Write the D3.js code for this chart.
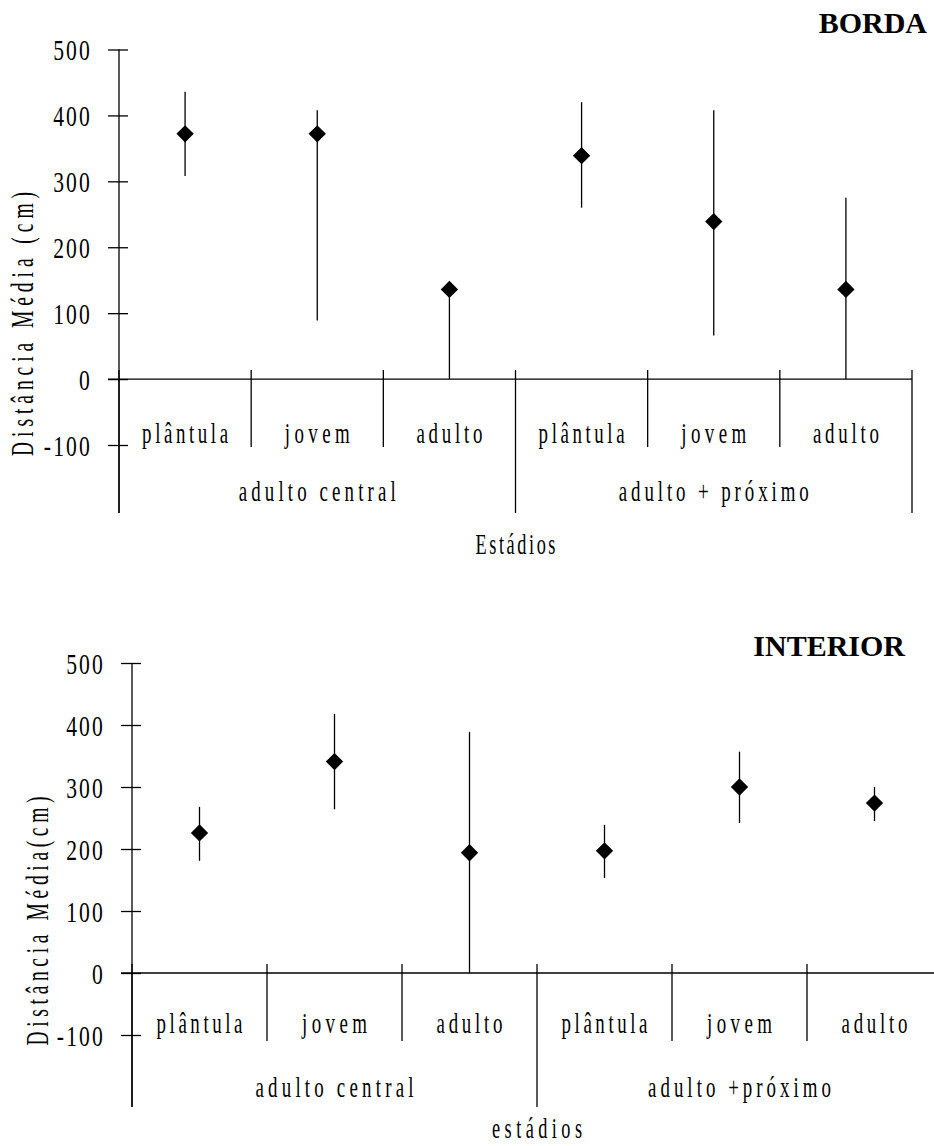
<!DOCTYPE html>
<html>
<head>
<meta charset="utf-8">
<script src="https://cdn.jsdelivr.net/npm/d3@7"></script>
<style>
  html, body { margin: 0; padding: 0; background: #fff; }
  svg { display: block; }
  text { font-family: "Liberation Serif", "Times New Roman", serif; fill: #000; }
</style>
</head>
<body>
<svg id="chart" width="934" height="1146"></svg>
<script>
// ---- data ----
const stages = ["plântula", "jovem", "adulto"];
const groupsBorda = ["adulto central", "adulto + próximo"];
const groupsInterior = ["adulto central", "adulto +próximo"];
const yTicks = [500, 400, 300, 200, 100, 0, -100];

const bordaMean = [372, 372, 136, 339, 239, 136];
const bordaLow  = [308, 89, 0, 260, 66, 0];
const bordaHigh = [436, 408, 140, 420, 408, 275];

const interiorMean = [226, 341, 194, 197, 300, 274];
const interiorLow  = [181, 264, 0, 153, 242, 245];
const interiorHigh = [268, 418, 389, 239, 357, 300];

const svg = d3.select("#chart");
const SX = 0.63;
const TSX = 0.72;
const stageWidths = {"plântula": 86, "jovem": 65, "adulto": 66};

// condensed, letter-spaced text (the original's narrow serif look)
function condText(parent, str, x, y, size, width, rotate) {
  const g = parent.append("g")
    .attr("transform", `translate(${x},${y})` + (rotate ? " rotate(-90)" : "") + ` scale(${SX},1)`);
  g.append("text")
    .attr("text-anchor", "middle")
    .attr("font-size", size)
    .attr("textLength", width / SX)
    .attr("lengthAdjust", "spacing")
    .text(str);
}

function drawPanel(cfg) {
  const g = svg.append("g");
  const n = cfg.mean.length;
  const idx = d3.range(n);
  const x = d3.scaleBand().domain(idx).range([cfg.left, cfg.right]).padding(0);
  const y = d3.scaleLinear().domain([-100, 500]).range([cfg.yMin, cfg.yMax]);
  const y0 = y(0);

  // y axis
  const ax = g.append("g")
    .attr("transform", `translate(${cfg.left},0)`)
    .call(d3.axisLeft(y).tickValues(yTicks).tickSize(11).tickPadding(18).tickFormat(d => String(d)));
  ax.attr("font-family", null);
  ax.select(".domain").remove();
  ax.selectAll(".tick line").attr("stroke", "#000").attr("stroke-width", 1.3);
  ax.selectAll(".tick").append("line").attr("x1", 0).attr("x2", 9)
    .attr("stroke", "#000").attr("stroke-width", 1.3);
  ax.selectAll(".tick text")
    .attr("font-size", 30).attr("dy", "0.34em").attr("fill", "#000")
    .attr("x", -27 / TSX)
    .attr("transform", `scale(${TSX},1)`)
    .attr("letter-spacing", 3);
  // vertical axis line
  g.append("line").attr("x1", cfg.left).attr("x2", cfg.left)
    .attr("y1", y(500)).attr("y2", cfg.axisBottom)
    .attr("stroke", "#000").attr("stroke-width", 1.3);

  // horizontal zero line
  g.append("line").attr("x1", cfg.left - 11).attr("x2", cfg.xAxisEnd)
    .attr("y1", y0).attr("y2", y0).attr("stroke", "#000").attr("stroke-width", 1.3);

  // separators
  const seps = d3.range(n + 1);
  g.selectAll(".sep").data(seps).enter().append("line")
    .attr("x1", d => d < n ? x(d) : x(n - 1) + x.bandwidth())
    .attr("x2", d => d < n ? x(d) : x(n - 1) + x.bandwidth())
    .attr("y1", y0 - 9)
    .attr("y2", d => (d % 3 === 0) ? cfg.axisBottom : y0 + 68)
    .attr("stroke", "#000").attr("stroke-width", 1.3);

  // stage labels
  idx.forEach(d => {
    const s = stages[d % 3];
    condText(g, s, x(d) + x.bandwidth() / 2, cfg.stageY, 30, stageWidths[s]);
  });

  // group labels
  [0, 1].forEach(d => {
    condText(g, cfg.groups[d], (x(d * 3) + x(d * 3 + 2) + x.bandwidth()) / 2, cfg.groupY, 30, cfg.groupW[d]);
  });

  // x title
  condText(g, cfg.xTitle, (cfg.left + x(n - 1) + x.bandwidth()) / 2, cfg.xTitleY, 29, cfg.xTitleW);

  // y title
  condText(g, cfg.yTitle, cfg.yTitleX, cfg.yTitleY, 31, cfg.yTitleLen, true);

  // panel title
  g.append("text").attr("x", cfg.titleX).attr("y", cfg.titleY)
    .attr("text-anchor", "end").attr("font-size", 30).attr("font-weight", "bold")
    .text(cfg.title);

  // error bars
  g.selectAll(".err").data(idx).enter().append("line")
    .attr("x1", d => x(d) + x.bandwidth() / 2).attr("x2", d => x(d) + x.bandwidth() / 2)
    .attr("y1", d => y(cfg.high[d])).attr("y2", d => y(cfg.low[d]))
    .attr("stroke", "#000").attr("stroke-width", 1.3);

  // diamonds
  const sym = d3.symbol().type(d3.symbolSquare).size(150);
  g.selectAll(".pt").data(idx).enter().append("path")
    .attr("d", sym)
    .attr("transform", d => `translate(${x(d) + x.bandwidth() / 2},${y(cfg.mean[d])}) rotate(45)`)
    .attr("fill", "#000");
}

drawPanel({
  mean: bordaMean, low: bordaLow, high: bordaHigh,
  left: 119, right: 912, yMin: 445, yMax: 49.5, axisBottom: 513, xAxisEnd: 912,
  stageY: 443, groupY: 501, xTitleY: 554, xTitle: "Estádios", xTitleW: 80,
  groups: groupsBorda, groupW: [157, 190],
  yTitle: "Distância Média (cm)", yTitleX: 33, yTitleY: 324, yTitleLen: 264,
  title: "BORDA", titleX: 927, titleY: 33
});

drawPanel({
  mean: interiorMean, low: interiorLow, high: interiorHigh,
  left: 132, right: 942, yMin: 1035, yMax: 663, axisBottom: 1107, xAxisEnd: 934,
  stageY: 1033, groupY: 1097, xTitleY: 1138, xTitle: "estádios", xTitleW: 90,
  groups: groupsInterior, groupW: [158, 183],
  yTitle: "Distância Média(cm)", yTitleX: 48, yTitleY: 921, yTitleLen: 249,
  title: "INTERIOR", titleX: 905, titleY: 656
});
</script>
</body>
</html>
